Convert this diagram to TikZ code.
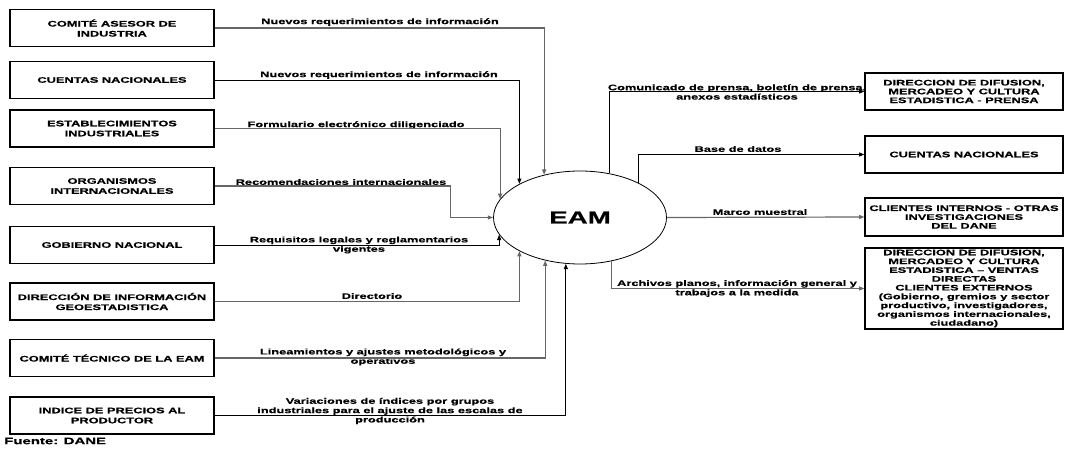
\documentclass[tikz,border=0pt]{standalone}
\usepackage{fontspec}
\setmainfont{Liberation Sans}[FakeStretch=1.6, BoldFeatures={FakeBold=0.6}]
\usetikzlibrary{arrows.meta,shapes.geometric}
\begin{document}
\begin{tikzpicture}[x=0.75pt,y=-0.75pt,
  every node/.style={font=\bfseries\fontsize{6}{7}\selectfont, text=black},
  lbox/.style={draw=black, line width=0.9pt, minimum width=153pt, minimum height=27.75pt,
    align=center, inner sep=1pt, font=\bfseries\fontsize{6}{7.5}\selectfont},
  rbox/.style={draw=black, line width=0.9pt, minimum width=148.5pt, minimum height=27.75pt,
    align=center, inner sep=1pt, font=\bfseries\fontsize{6}{6.6}\selectfont},
  lbl/.style={align=center, inner sep=0pt},
  flow/.style={line width=0.9pt, draw=black!60, -{Triangle[length=4pt,width=3pt]}},
  flowk/.style={flow, draw=black, line width=0.7pt}]

\fill[white] (0,0) rectangle (1065,453);
\useasboundingbox (0,0) rectangle (1065,453);

% sources on the left
\node[lbox] (b1) at (112,28)    {COMITÉ ASESOR DE\\INDUSTRIA};
\node[lbox] (b2) at (112,80)    {CUENTAS NACIONALES};
\node[lbox] (b3) at (112,128.5) {ESTABLECIMIENTOS\\INDUSTRIALES};
\node[lbox] (b4) at (112,186)   {ORGANISMOS\\INTERNACIONALES};
\node[lbox] (b5) at (112,245)   {GOBIERNO NACIONAL};
\node[lbox] (b6) at (112,301.5) {DIRECCIÓN DE INFORMACIÓN\\GEOESTADISTICA};
\node[lbox] (b7) at (112,358)   {COMITÉ TÉCNICO DE LA EAM};
\node[lbox] (b8) at (112,415.5) {INDICE DE PRECIOS AL\\PRODUCTOR};

% central process
\node[ellipse, draw=black, line width=0.6pt, minimum width=129.75pt, minimum height=69.75pt,
  inner sep=0pt, font=\bfseries\fontsize{13}{15}\selectfont] (eam) at (580,217.5) {EAM};

% destinations on the right
\node[rbox] (r1) at (964,91.5)  {DIRECCION DE DIFUSION,\\MERCADEO Y CULTURA\\ESTADISTICA - PRENSA};
\node[rbox] (r2) at (964,154.5) {CUENTAS NACIONALES};
\node[rbox, minimum height=28.5pt] (r3) at (964,217) {CLIENTES INTERNOS - OTRAS\\INVESTIGACIONES\\DEL DANE};
\node[rbox, minimum height=60.75pt] (r4) at (964,288.5) {DIRECCION DE DIFUSION,\\MERCADEO Y CULTURA\\ESTADISTICA – VENTAS\\DIRECTAS\\CLIENTES EXTERNOS\\(Gobierno, gremios y sector\\productivo, investigadores,\\organismos internacionales,\\ciudadano)};

% flow labels
\node[lbl] (t1)  at (380,22)  {Nuevos requerimientos de información};
\node[lbl] (t2)  at (379,75)  {Nuevos requerimientos de información};
\node[lbl] (t3)  at (356,125) {Formulario electrónico diligenciado};
\node[lbl] (t4)  at (341,182) {Recomendaciones internacionales};
\node[lbl] (t5)  at (359,245) {Requisitos legales y reglamentarios\\vigentes};
\node[lbl] (t6)  at (372,296) {Directorio};
\node[lbl] (t7)  at (383,357) {Lineamientos y ajustes metodológicos y\\operativos};
\node[lbl] (t8)  at (390,411) {Variaciones de índices por grupos\\industriales para el ajuste de las escalas de\\producción};
\node[lbl] (t9)  at (737,92)  {Comunicado de prensa, boletín de prensa,\\anexos estadísticos};
\node[lbl] (t10) at (738,149) {Base de datos};
\node[lbl] (t11) at (760,212) {Marco muestral};
\node[lbl] (t12) at (737,288.5) {Archivos planos, información general y\\trabajos a la medida};

\node[anchor=west, inner sep=0pt, font=\bfseries\fontsize{7}{8}\selectfont] (src) at (4,441) {Fuente: DANE};

% inputs
\draw[flow]  (b1.east) -| (eam.130.4);
\draw[flowk] (b2.east) -| (eam.151.6);
\draw[flow]  (b3.east) -| (eam.167.5);
\draw[flow]  (b4.east) -| ([xshift=-32.25pt]eam.west) -- (eam.west);
\draw[flowk] (b5.east) -| (eam.192.5);
\draw[flow]  (b6.east) -| (eam.209.2);
\draw[flow]  (b7.east) -| (eam.231.5);
\draw[flowk] (b8.east) -| (eam.253);

% outputs
\draw[flowk] (eam.56.5) |- (r1.west);
\draw[flowk] (eam.31.6) |- (r2.west);
\draw[flow]  (eam.east) -- (r3.west);
\draw[flow]  (eam.306.5) |- (r4.west);
\end{tikzpicture}
\end{document}
